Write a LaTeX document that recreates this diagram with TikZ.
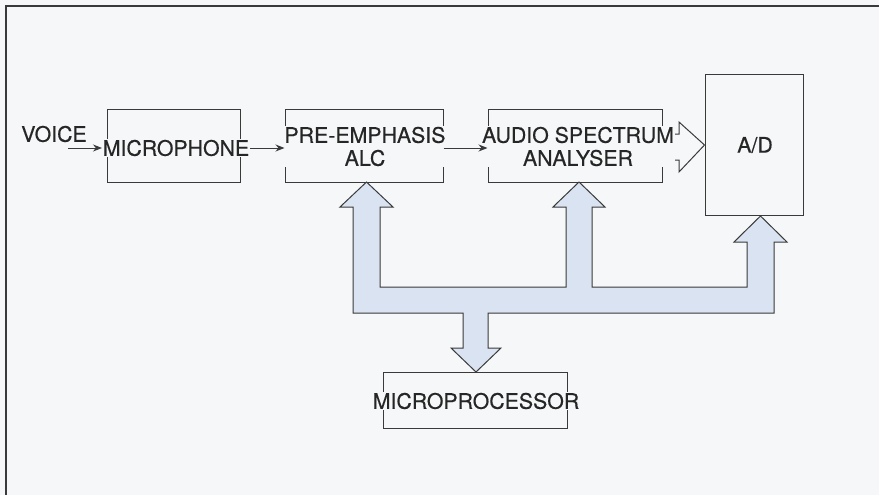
\documentclass[tikz,border=0pt]{standalone}
\usepackage{fontspec}
\setmainfont{TeX Gyre Heros}[FakeBold=0.4]
\usetikzlibrary{arrows.meta}
\definecolor{bg}{HTML}{F6F7F9}
\definecolor{ink}{HTML}{3A3A3A}
\definecolor{txt}{HTML}{262626}
\definecolor{bus}{HTML}{D9E3F1}
\tikzset{
  x=1pt, y=-1pt,
  box/.style={draw=ink, line width=1pt, inner sep=0pt, minimum width=#1},
  lbl/.style={font=\fontsize{21.3}{23}\selectfont, text=txt, fill=bg, inner sep=0.6pt, align=center},
  sig/.style={draw=ink, line width=1pt, -{Stealth[length=9pt,width=7pt]}},
  outline/.style={draw=ink, line width=1pt, line join=miter}
}
\begin{document}
\begin{tikzpicture}
\useasboundingbox (0,0) rectangle (879,495);
\fill[bg] (0,0) rectangle (879,495);
% frame (left and top edges)
\draw[ink, line width=2pt] (5.5,495) -- (5.5,6) -- (879,6);

% boxes
\node[box, minimum width=133pt, minimum height=72pt] (micbox) at (173.5,146) {};
\node[box, minimum width=158pt, minimum height=72pt] (prebox) at (364,146) {};
\node[box, minimum width=174pt, minimum height=72pt] (asabox) at (575,146) {};
\node[box, minimum width=98pt, minimum height=140pt] (adbox) at (754,145) {};
\node[box, minimum width=184pt, minimum height=56pt] (mpbox) at (475,400) {};

% wide bus arrows
\path[outline, fill=bus]
  (353,313) -- (353,207) -- (340,207) -- (366.5,182) -- (393,207) -- (380,207)
  -- (380,287) -- (566,287) -- (566,207) -- (553,207) -- (579,182) -- (605,207)
  -- (592,207) -- (592,287) -- (747,287) -- (747,242) -- (734,242) -- (760.5,216)
  -- (787,242) -- (774,242) -- (774,313) -- (488,313) -- (488,348) -- (501,348)
  -- (476,372) -- (451,348) -- (463,348) -- (463,313) -- cycle;

% hollow arrow ASA -> A/D
\path[outline, fill=bg]
  (asabox.east |- 0,134) -- (679,134) -- (679,122) -- (adbox.west) -- (679,172)
  -- (679,160) -- (asabox.east |- 0,160);

% labels
\node[lbl] (voice) at (54,134) {VOICE};
\node[lbl] (mic) at (176,148) {MICROPHONE};
\node[lbl] (pre) at (365,146.5) {PRE-EMPHASIS\\ALC};
\node[lbl] (asa) at (578,146.5) {AUDIO SPECTRUM\\ANALYSER};
\node[lbl, fill=none] (ad) at (755,145) {A/D};
\node[lbl] (mp) at (476,401) {MICROPROCESSOR};

% signal arrows
\coordinate (vstart) at (68,148);
\draw[sig] (vstart) -- (mic.west |- vstart);
\draw[sig] (mic.east |- 0,148) -- (prebox.west |- 0,148);
\draw[sig] (prebox.east |- 0,148) -- (asabox.west |- 0,148);
\end{tikzpicture}
\end{document}
